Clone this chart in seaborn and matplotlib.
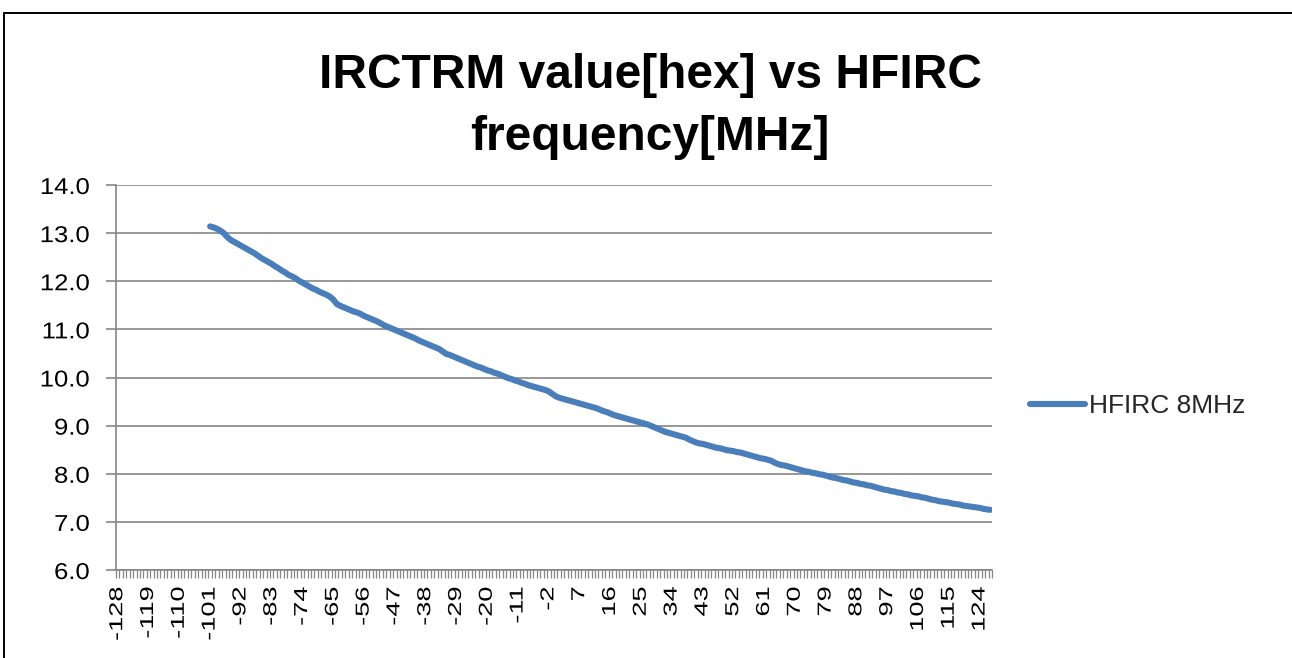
import numpy as np
import pandas as pd
import matplotlib
matplotlib.use("Agg")
import matplotlib.pyplot as plt
import seaborn as sns
from matplotlib import patheffects
from matplotlib.transforms import Affine2D
from matplotlib.lines import Line2D

# IRCTRM trim codes (signed decimal) on the category axis
trim_codes = list(range(-128, 128))
first_measured_code = -101

# Measured HFIRC frequency [MHz] for codes -101 .. 127
hfirc_8mhz = [
    13.14, 13.12, 13.09, 13.05, 13.00, 12.92, 12.86, 12.82, 12.78, 12.74,
    12.70, 12.66, 12.62, 12.58, 12.53, 12.48, 12.44, 12.40, 12.36, 12.31,
    12.27, 12.22, 12.18, 12.13, 12.10, 12.06, 12.01, 11.97, 11.93, 11.89,
    11.85, 11.82, 11.78, 11.75, 11.72, 11.68, 11.62, 11.53, 11.49, 11.46,
    11.43, 11.40, 11.37, 11.35, 11.32, 11.28, 11.25, 11.22, 11.19, 11.16,
    11.12, 11.08, 11.05, 11.02, 10.99, 10.96, 10.93, 10.90, 10.87, 10.84,
    10.81, 10.77, 10.74, 10.71, 10.68, 10.65, 10.62, 10.59, 10.54, 10.49,
    10.47, 10.44, 10.41, 10.38, 10.35, 10.32, 10.29, 10.26, 10.23, 10.21,
    10.18, 10.15, 10.13, 10.10, 10.08, 10.05, 10.02, 9.99, 9.97, 9.94,
    9.92, 9.89, 9.87, 9.84, 9.82, 9.80, 9.78, 9.76, 9.74, 9.71,
    9.66, 9.61, 9.58, 9.56, 9.54, 9.52, 9.50, 9.48, 9.46, 9.44,
    9.42, 9.40, 9.38, 9.36, 9.33, 9.30, 9.28, 9.25, 9.22, 9.20,
    9.18, 9.16, 9.14, 9.12, 9.10, 9.08, 9.06, 9.04, 9.02, 8.99,
    8.96, 8.93, 8.90, 8.87, 8.85, 8.83, 8.81, 8.79, 8.77, 8.75,
    8.71, 8.68, 8.65, 8.63, 8.62, 8.60, 8.58, 8.56, 8.54, 8.53,
    8.51, 8.49, 8.48, 8.47, 8.45, 8.44, 8.42, 8.40, 8.38, 8.36,
    8.34, 8.32, 8.31, 8.29, 8.27, 8.23, 8.20, 8.18, 8.17, 8.15,
    8.13, 8.11, 8.09, 8.07, 8.05, 8.04, 8.02, 8.01, 7.99, 7.98,
    7.96, 7.94, 7.92, 7.91, 7.89, 7.87, 7.86, 7.84, 7.82, 7.81,
    7.79, 7.78, 7.76, 7.75, 7.73, 7.71, 7.69, 7.67, 7.66, 7.64,
    7.63, 7.61, 7.60, 7.58, 7.57, 7.55, 7.54, 7.53, 7.51, 7.50,
    7.48, 7.46, 7.45, 7.43, 7.42, 7.41, 7.40, 7.38, 7.37, 7.36,
    7.34, 7.33, 7.32, 7.31, 7.30, 7.29, 7.27, 7.26, 7.25,
]

series_label = "HFIRC 8MHz"
title_text = "IRCTRM value[hex] vs HFIRC\nfrequency[MHz]"
y_ticks = [6.0, 7.0, 8.0, 9.0, 10.0, 11.0, 12.0, 13.0, 14.0]
x_label_codes = trim_codes[::9]

LINE_BLUE = "#4A7EBB"
AXIS_GREY = "#868686"


class Stretch(patheffects.AbstractPathEffect):
    """Scale glyph outlines in the text's own frame, pinned at the text end."""

    def __init__(self, sx=1.0, sy=1.0):
        super().__init__()
        self.sx = sx
        self.sy = sy

    def draw_path(self, renderer, gc, tpath, affine, rgbFace=None):
        ext = tpath.get_extents()
        yc = 0.5 * (ext.y0 + ext.y1)
        pre = (Affine2D().translate(-ext.x1, -yc)
               .scale(self.sx, self.sy)
               .translate(ext.x1, yc))
        renderer.draw_path(gc, tpath, pre + affine, rgbFace)


sns.set_style("white")
plt.rcParams["font.family"] = ["Liberation Sans", "DejaVu Sans"]

codes_measured = trim_codes[trim_codes.index(first_measured_code):]
df = pd.DataFrame({"code": codes_measured, "freq": hfirc_8mhz})

W, H = 1292, 658
fig = plt.figure(figsize=(W / 100, H / 100), dpi=100)
fig.patch.set_facecolor("white")
ax = fig.add_axes([116 / W, 1 - 570 / H, (992 - 116) / W, (570 - 185) / H])

sns.lineplot(data=df, x="code", y="freq", ax=ax, color=LINE_BLUE,
             linewidth=4.4, label=series_label, solid_capstyle="round",
             zorder=3)

ax.set_xlim(trim_codes[0] - 0.5, trim_codes[-1] + 0.5)
ax.set_ylim(y_ticks[0], y_ticks[-1])
ax.set_xlabel("")
ax.set_ylabel("")

# value axis
ax.set_yticks(y_ticks)
ax.set_yticklabels([f"{v:.1f}" for v in y_ticks])
ax.grid(axis="y", color=AXIS_GREY, linewidth=1.2)
ax.grid(axis="x", visible=False)
ax.tick_params(axis="y", which="major", direction="out", length=7,
               width=1.2, color=AXIS_GREY, labelsize=16.5, pad=12,
               labelcolor="black", left=True)

# category axis: marks between categories, labels every 9th code
ax.set_xticks(x_label_codes)
ax.set_xticklabels([str(c) for c in x_label_codes], rotation=90)
ax.set_xticks(np.arange(trim_codes[0] - 0.5, trim_codes[-1] + 1.0, 1.0),
              minor=True)
ax.tick_params(axis="x", which="major", length=0, pad=12, labelsize=13.5,
               labelcolor="black")
ax.tick_params(axis="x", which="minor", direction="out", length=6,
               width=0.9, color=AXIS_GREY, bottom=True)

for side in ("top", "right"):
    ax.spines[side].set_visible(False)
for side in ("left", "bottom"):
    ax.spines[side].set_color(AXIS_GREY)
    ax.spines[side].set_linewidth(1.2)

for lbl in ax.get_yticklabels():
    lbl.set_path_effects([Stretch(1.12, 1.0)])
for lbl in ax.get_xticklabels():
    lbl.set_path_effects([Stretch(1.45, 1.0)])

leg = ax.legend(loc="center left", bbox_to_anchor=(1030 / W, 1 - 406 / H),
                bbox_transform=fig.transFigure, frameon=False, fontsize=19,
                handlelength=2.1, handletextpad=0.15, borderpad=0,
                borderaxespad=0)
for h in leg.get_lines():
    h.set_linewidth(4.4)
    h.set_solid_capstyle("round")

fig.text(650 / W, 1 - 53 / H, title_text, ha="center", va="top",
         fontsize=34.5, fontweight="bold", linespacing=1.48, color="black")

# chart area frame
fig.add_artist(Line2D([3.5 / W, 1.0], [1 - 12.5 / H, 1 - 12.5 / H],
                      transform=fig.transFigure, color="black", lw=1.4))
fig.add_artist(Line2D([4 / W, 4 / W], [0.0, 1 - 12.5 / H],
                      transform=fig.transFigure, color="black", lw=1.4))

fig.savefig("out.png", dpi=100, facecolor="white")
